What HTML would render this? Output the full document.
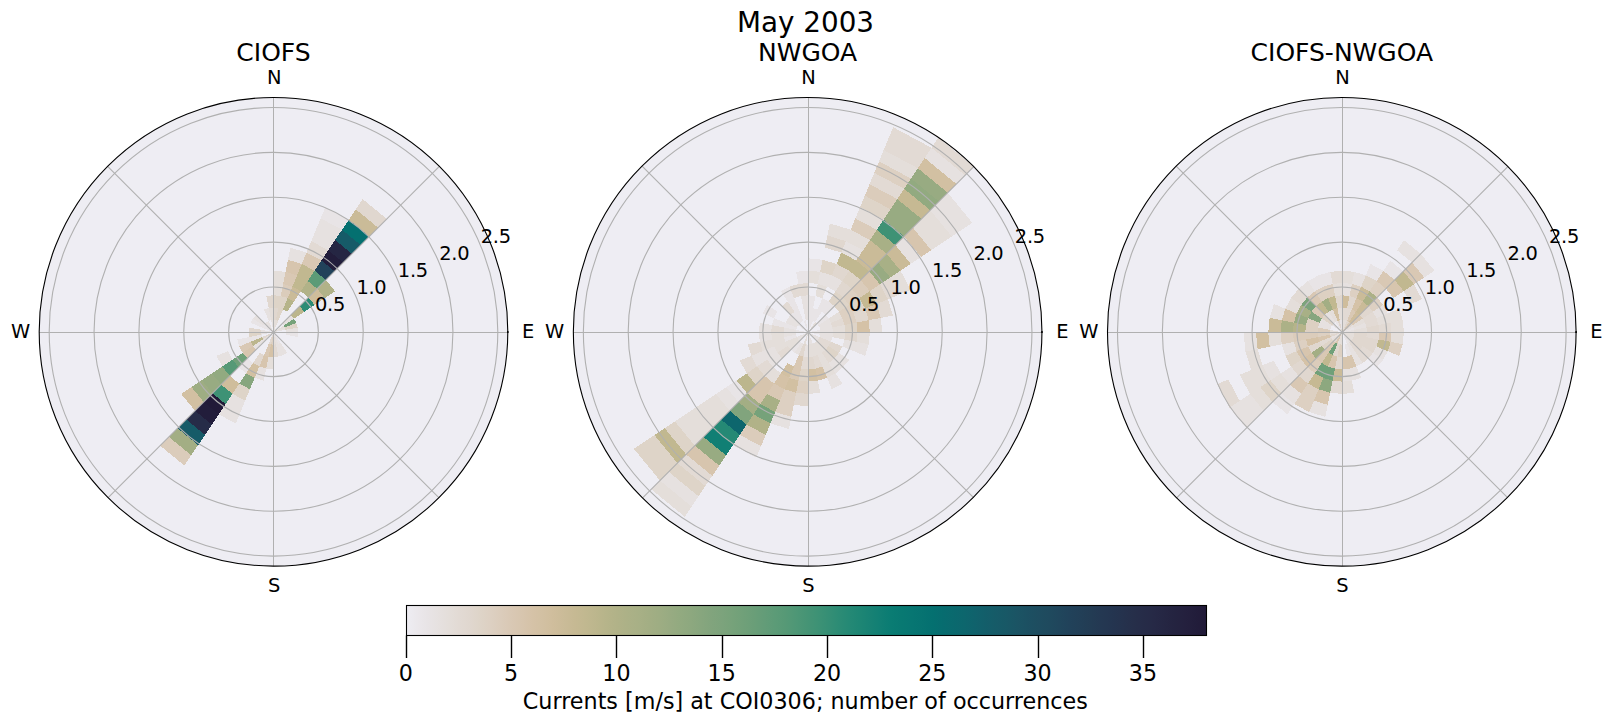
<!DOCTYPE html><html><head><meta charset="utf-8"><title>May 2003</title><style>html,body{margin:0;padding:0;background:#fff}svg{display:block}text{font-family:"DejaVu Sans","Liberation Sans",sans-serif;fill:#000}</style></head><body>
<svg width="1611" height="724" viewBox="0 0 1611 724">
<rect width="1611" height="724" fill="#fff"/>
<defs><clipPath id="c0"><circle cx="273.50" cy="331.80" r="234.30"/></clipPath></defs>
<circle cx="273.50" cy="331.80" r="234.30" fill="#eeedf3"/>
<g shape-rendering="crispEdges" clip-path="url(#c0)">
<polygon points="273.50,332.30 273.50,319.97 275.91,320.21 273.50,332.30" fill="#e4deda"/>
<polygon points="273.50,319.97 273.50,307.64 278.31,308.11 275.91,320.21" fill="#e0d7cf"/>
<polygon points="273.50,307.64 273.50,295.31 280.72,296.02 278.31,308.11" fill="#ded4c8"/>
<polygon points="273.50,295.31 273.50,282.97 283.12,283.92 280.72,296.02" fill="#e4deda"/>
<polygon points="273.50,282.97 273.50,270.64 285.53,271.83 283.12,283.92" fill="#e4deda"/>
<polygon points="273.50,332.30 275.91,320.21 278.22,320.91 273.50,332.30" fill="#e4deda"/>
<polygon points="275.91,320.21 278.31,308.11 282.94,309.51 278.22,320.91" fill="#ded4c8"/>
<polygon points="278.31,308.11 280.72,296.02 287.66,298.12 282.94,309.51" fill="#ded4c8"/>
<polygon points="280.72,296.02 283.12,283.92 292.38,286.73 287.66,298.12" fill="#dbccbb"/>
<polygon points="283.12,283.92 285.53,271.83 297.10,275.34 292.38,286.73" fill="#d9c8b4"/>
<polygon points="285.53,271.83 287.93,259.73 301.81,263.94 297.10,275.34" fill="#d7c5ae"/>
<polygon points="287.93,259.73 290.34,247.64 306.53,252.55 301.81,263.94" fill="#e6e1e0"/>
<polygon points="282.94,309.51 287.66,298.12 294.05,301.54 287.20,311.79" fill="#b6b48a"/>
<polygon points="287.66,298.12 292.38,286.73 300.90,291.29 294.05,301.54" fill="#cabb98"/>
<polygon points="292.38,286.73 297.10,275.34 307.76,281.03 300.90,291.29" fill="#c1b890"/>
<polygon points="297.10,275.34 301.81,263.94 314.61,270.78 307.76,281.03" fill="#c1b890"/>
<polygon points="301.81,263.94 306.53,252.55 321.46,260.53 314.61,270.78" fill="#d9c8b4"/>
<polygon points="306.53,252.55 311.25,241.16 328.31,250.27 321.46,260.53" fill="#e2dad4"/>
<polygon points="311.25,241.16 315.97,229.76 335.16,240.02 328.31,250.27" fill="#e6e1e0"/>
<polygon points="315.97,229.76 320.69,218.37 342.01,229.77 335.16,240.02" fill="#e6e1e0"/>
<polygon points="320.69,218.37 325.41,206.98 348.86,219.51 342.01,229.77" fill="#e8e4e6"/>
<polygon points="300.90,291.29 307.76,281.03 317.10,288.70 308.38,297.42" fill="#b1b288"/>
<polygon points="307.76,281.03 314.61,270.78 325.82,279.98 317.10,288.70" fill="#5c9b77"/>
<polygon points="314.61,270.78 321.46,260.53 334.54,271.26 325.82,279.98" fill="#21425a"/>
<polygon points="321.46,260.53 328.31,250.27 343.26,262.54 334.54,271.26" fill="#221d3b"/>
<polygon points="328.31,250.27 335.16,240.02 351.98,253.82 343.26,262.54" fill="#252643"/>
<polygon points="335.16,240.02 342.01,229.77 360.70,245.10 351.98,253.82" fill="#165b68"/>
<polygon points="342.01,229.77 348.86,219.51 369.42,236.38 360.70,245.10" fill="#047070"/>
<polygon points="348.86,219.51 355.71,209.26 378.14,227.66 369.42,236.38" fill="#cabb98"/>
<polygon points="355.71,209.26 362.56,199.01 386.86,218.94 378.14,227.66" fill="#e0d7cf"/>
<polygon points="282.22,323.58 290.94,314.86 294.01,318.60 283.75,325.45" fill="#e6e1e0"/>
<polygon points="290.94,314.86 299.66,306.14 304.26,311.75 294.01,318.60" fill="#bcb68d"/>
<polygon points="299.66,306.14 308.38,297.42 314.51,304.90 304.26,311.75" fill="#2d8c75"/>
<polygon points="308.38,297.42 317.10,288.70 324.77,298.04 314.51,304.90" fill="#cfbd9c"/>
<polygon points="317.10,288.70 325.82,279.98 335.02,291.19 324.77,298.04" fill="#b1b288"/>
<polygon points="273.50,332.30 283.75,325.45 284.89,327.58 273.50,332.30" fill="#e4deda"/>
<polygon points="283.75,325.45 294.01,318.60 296.29,322.86 284.89,327.58" fill="#76a27a"/>
<polygon points="273.50,332.30 284.89,327.58 285.59,329.89 273.50,332.30" fill="#e6e1e0"/>
<polygon points="284.89,327.58 296.29,322.86 297.69,327.49 285.59,329.89" fill="#ded4c8"/>
<polygon points="285.59,329.89 297.69,327.49 298.16,332.30 285.83,332.30" fill="#e6e1e0"/>
<polygon points="285.83,332.30 298.16,332.30 297.69,337.11 285.59,334.71" fill="#e8e4e6"/>
<polygon points="273.50,332.30 280.35,342.55 278.22,343.69 273.50,332.30" fill="#e8e4e6"/>
<polygon points="280.35,342.55 287.20,352.81 282.94,355.09 278.22,343.69" fill="#e6e1e0"/>
<polygon points="273.50,332.30 278.22,343.69 275.91,344.39 273.50,332.30" fill="#e6e1e0"/>
<polygon points="278.22,343.69 282.94,355.09 278.31,356.49 275.91,344.39" fill="#e6e1e0"/>
<polygon points="273.50,332.30 275.91,344.39 273.50,344.63 273.50,332.30" fill="#e4deda"/>
<polygon points="275.91,344.39 278.31,356.49 273.50,356.96 273.50,344.63" fill="#e2dad4"/>
<polygon points="273.50,332.30 273.50,344.63 271.09,344.39 273.50,332.30" fill="#ddd0c2"/>
<polygon points="273.50,344.63 273.50,356.96 268.69,356.49 271.09,344.39" fill="#d5c2a7"/>
<polygon points="273.50,356.96 273.50,369.29 266.28,368.58 268.69,356.49" fill="#e4deda"/>
<polygon points="273.50,332.30 271.09,344.39 268.78,343.69 273.50,332.30" fill="#e0d7cf"/>
<polygon points="271.09,344.39 268.69,356.49 264.06,355.09 268.78,343.69" fill="#d9c8b4"/>
<polygon points="268.69,356.49 266.28,368.58 259.34,366.48 264.06,355.09" fill="#d7c5ae"/>
<polygon points="266.28,368.58 263.88,380.68 254.62,377.87 259.34,366.48" fill="#e6e1e0"/>
<polygon points="264.06,355.09 259.34,366.48 252.95,363.06 259.80,352.81" fill="#e0d7cf"/>
<polygon points="259.34,366.48 254.62,377.87 246.10,373.31 252.95,363.06" fill="#d2c0a2"/>
<polygon points="254.62,377.87 249.90,389.26 239.24,383.57 246.10,373.31" fill="#87a67e"/>
<polygon points="249.90,389.26 245.19,400.66 232.39,393.82 239.24,383.57" fill="#ded4c8"/>
<polygon points="245.19,400.66 240.47,412.05 225.54,404.07 232.39,393.82" fill="#e6e1e0"/>
<polygon points="240.47,412.05 235.75,423.44 218.69,414.33 225.54,404.07" fill="#e6e1e0"/>
<polygon points="252.95,363.06 246.10,373.31 238.62,367.18 247.34,358.46" fill="#e8e4e6"/>
<polygon points="239.24,383.57 232.39,393.82 221.18,384.62 229.90,375.90" fill="#cfbd9c"/>
<polygon points="232.39,393.82 225.54,404.07 212.46,393.34 221.18,384.62" fill="#3e9275"/>
<polygon points="225.54,404.07 218.69,414.33 203.74,402.06 212.46,393.34" fill="#211a38"/>
<polygon points="218.69,414.33 211.84,424.58 195.02,410.78 203.74,402.06" fill="#221d3b"/>
<polygon points="211.84,424.58 204.99,434.83 186.30,419.50 195.02,410.78" fill="#262c48"/>
<polygon points="204.99,434.83 198.14,445.09 177.58,428.22 186.30,419.50" fill="#165b68"/>
<polygon points="198.14,445.09 191.29,455.34 168.86,436.94 177.58,428.22" fill="#a3ae84"/>
<polygon points="191.29,455.34 184.44,465.59 160.14,445.66 168.86,436.94" fill="#dbccbb"/>
<polygon points="273.50,332.30 264.78,341.02 263.25,339.15 273.50,332.30" fill="#e6e1e0"/>
<polygon points="264.78,341.02 256.06,349.74 252.99,346.00 263.25,339.15" fill="#e6e1e0"/>
<polygon points="256.06,349.74 247.34,358.46 242.74,352.85 252.99,346.00" fill="#d7c5ae"/>
<polygon points="247.34,358.46 238.62,367.18 232.49,359.70 242.74,352.85" fill="#70a079"/>
<polygon points="238.62,367.18 229.90,375.90 222.23,366.56 232.49,359.70" fill="#569976"/>
<polygon points="229.90,375.90 221.18,384.62 211.98,373.41 222.23,366.56" fill="#92aa80"/>
<polygon points="221.18,384.62 212.46,393.34 201.73,380.26 211.98,373.41" fill="#98ab82"/>
<polygon points="212.46,393.34 203.74,402.06 191.47,387.11 201.73,380.26" fill="#9ead83"/>
<polygon points="203.74,402.06 195.02,410.78 181.22,393.96 191.47,387.11" fill="#d2c0a2"/>
<polygon points="273.50,332.30 263.25,339.15 262.11,337.02 273.50,332.30" fill="#e0d7cf"/>
<polygon points="263.25,339.15 252.99,346.00 250.71,341.74 262.11,337.02" fill="#bcb68d"/>
<polygon points="252.99,346.00 242.74,352.85 239.32,346.46 250.71,341.74" fill="#d9c8b4"/>
<polygon points="232.49,359.70 222.23,366.56 216.54,355.90 227.93,351.18" fill="#e6e1e0"/>
<polygon points="262.11,337.02 250.71,341.74 249.31,337.11 261.41,334.71" fill="#e8e4e6"/>
<polygon points="250.71,341.74 239.32,346.46 237.22,339.52 249.31,337.11" fill="#e8e4e6"/>
<polygon points="273.50,332.30 261.41,334.71 261.17,332.30 273.50,332.30" fill="#e6e1e0"/>
<polygon points="261.41,334.71 249.31,337.11 248.84,332.30 261.17,332.30" fill="#ded4c8"/>
<polygon points="273.50,332.30 261.17,332.30 261.41,329.89 273.50,332.30" fill="#e6e1e0"/>
<polygon points="261.17,332.30 248.84,332.30 249.31,327.49 261.41,329.89" fill="#e0d7cf"/>
<polygon points="273.50,332.30 262.11,327.58 263.25,325.45 273.50,332.30" fill="#e8e4e6"/>
<polygon points="262.11,327.58 250.71,322.86 252.99,318.60 263.25,325.45" fill="#e8e4e6"/>
<polygon points="273.50,332.30 263.25,325.45 264.78,323.58 273.50,332.30" fill="#e8e4e6"/>
<polygon points="263.25,325.45 252.99,318.60 256.06,314.86 264.78,323.58" fill="#e6e1e0"/>
<polygon points="273.50,332.30 264.78,323.58 266.65,322.05 273.50,332.30" fill="#e6e1e0"/>
<polygon points="273.50,332.30 266.65,322.05 268.78,320.91 273.50,332.30" fill="#e6e1e0"/>
<polygon points="268.78,320.91 264.06,309.51 268.69,308.11 271.09,320.21" fill="#e6e1e0"/>
<polygon points="273.50,332.30 271.09,320.21 273.50,319.97 273.50,332.30" fill="#e6e1e0"/>
<polygon points="271.09,320.21 268.69,308.11 273.50,307.64 273.50,319.97" fill="#e4deda"/>
<polygon points="268.69,308.11 266.28,296.02 273.50,295.31 273.50,307.64" fill="#e0d7cf"/>
</g>
<g stroke="#b0b0b0" stroke-width="1.1" fill="none">
<circle cx="273.50" cy="331.80" r="44.86"/>
<circle cx="273.50" cy="331.80" r="89.72"/>
<circle cx="273.50" cy="331.80" r="134.58"/>
<circle cx="273.50" cy="331.80" r="179.44"/>
<circle cx="273.50" cy="331.80" r="224.30"/>
<line x1="273.50" y1="332.30" x2="440.59" y2="165.21" clip-path="url(#c0)"/>
<line x1="273.50" y1="332.30" x2="440.59" y2="499.39" clip-path="url(#c0)"/>
<line x1="273.50" y1="332.30" x2="106.41" y2="499.39" clip-path="url(#c0)"/>
<line x1="273.50" y1="332.30" x2="106.41" y2="165.21" clip-path="url(#c0)"/>
<line x1="273.50" y1="97.50" x2="273.50" y2="566.10" stroke-width="1"/>
<line x1="39.20" y1="332.50" x2="507.80" y2="332.50" stroke-width="1"/>
</g>
<circle cx="273.50" cy="331.80" r="234.30" fill="none" stroke="#000" stroke-width="1.1"/>
<rect x="507.00" y="331.1" width="1.6" height="1.9" fill="#000"/>
<g font-size="19.44">
<text x="274.30" y="83.50" text-anchor="middle">N</text>
<text x="274.20" y="591.80" text-anchor="middle">S</text>
<text x="522.00" y="338.30" text-anchor="start">E</text>
<text x="30.20" y="338.30" text-anchor="end">W</text>
<text x="329.95" y="311.43" text-anchor="middle" letter-spacing="-0.3">0.5</text>
<text x="371.39" y="294.27" text-anchor="middle" letter-spacing="-0.3">1.0</text>
<text x="412.84" y="277.10" text-anchor="middle" letter-spacing="-0.3">1.5</text>
<text x="454.28" y="259.93" text-anchor="middle" letter-spacing="-0.3">2.0</text>
<text x="495.73" y="242.76" text-anchor="middle" letter-spacing="-0.3">2.5</text>
</g>
<text x="273.50" y="60.80" text-anchor="middle" font-size="25">CIOFS</text>
<defs><clipPath id="c1"><circle cx="807.65" cy="331.80" r="234.30"/></clipPath></defs>
<circle cx="807.65" cy="331.80" r="234.30" fill="#eeedf3"/>
<g shape-rendering="crispEdges" clip-path="url(#c1)">
<polygon points="808.20,332.30 808.20,319.97 810.61,320.21 808.20,332.30" fill="#e8e4e6"/>
<polygon points="808.20,319.97 808.20,307.64 813.01,308.11 810.61,320.21" fill="#e8e4e6"/>
<polygon points="808.20,307.64 808.20,295.31 815.42,296.02 813.01,308.11" fill="#e8e4e6"/>
<polygon points="808.20,282.97 808.20,270.64 820.23,271.83 817.82,283.92" fill="#e4deda"/>
<polygon points="808.20,270.64 808.20,258.31 822.63,259.73 820.23,271.83" fill="#e8e4e6"/>
<polygon points="808.20,332.30 810.61,320.21 812.92,320.91 808.20,332.30" fill="#e8e4e6"/>
<polygon points="810.61,320.21 813.01,308.11 817.64,309.51 812.92,320.91" fill="#e8e4e6"/>
<polygon points="815.42,296.02 817.82,283.92 827.08,286.73 822.36,298.12" fill="#e4deda"/>
<polygon points="817.82,283.92 820.23,271.83 831.80,275.34 827.08,286.73" fill="#e6e1e0"/>
<polygon points="820.23,271.83 822.63,259.73 836.51,263.94 831.80,275.34" fill="#ded4c8"/>
<polygon points="825.04,247.64 827.45,235.54 845.95,241.16 841.23,252.55" fill="#e0d7cf"/>
<polygon points="827.45,235.54 829.85,223.45 850.67,229.76 845.95,241.16" fill="#e4deda"/>
<polygon points="812.92,320.91 817.64,309.51 821.90,311.79 815.05,322.05" fill="#e8e4e6"/>
<polygon points="817.64,309.51 822.36,298.12 828.75,301.54 821.90,311.79" fill="#e8e4e6"/>
<polygon points="827.08,286.73 831.80,275.34 842.46,281.03 835.60,291.29" fill="#e6e1e0"/>
<polygon points="831.80,275.34 836.51,263.94 849.31,270.78 842.46,281.03" fill="#e0d7cf"/>
<polygon points="836.51,263.94 841.23,252.55 856.16,260.53 849.31,270.78" fill="#c1b890"/>
<polygon points="841.23,252.55 845.95,241.16 863.01,250.27 856.16,260.53" fill="#e6e1e0"/>
<polygon points="845.95,241.16 850.67,229.76 869.86,240.02 863.01,250.27" fill="#e4deda"/>
<polygon points="850.67,229.76 855.39,218.37 876.71,229.77 869.86,240.02" fill="#dbccbb"/>
<polygon points="855.39,218.37 860.11,206.98 883.56,219.51 876.71,229.77" fill="#e4deda"/>
<polygon points="860.11,206.98 864.83,195.59 890.41,209.26 883.56,219.51" fill="#ded4c8"/>
<polygon points="864.83,195.59 869.55,184.19 897.26,199.01 890.41,209.26" fill="#dbccbb"/>
<polygon points="869.55,184.19 874.27,172.80 904.11,188.75 897.26,199.01" fill="#e2dad4"/>
<polygon points="874.27,172.80 878.99,161.41 910.97,178.50 904.11,188.75" fill="#ddd0c2"/>
<polygon points="878.99,161.41 883.71,150.01 917.82,168.25 910.97,178.50" fill="#e4deda"/>
<polygon points="883.71,150.01 888.42,138.62 924.67,157.99 917.82,168.25" fill="#e2dad4"/>
<polygon points="888.42,138.62 893.14,127.23 931.52,147.74 924.67,157.99" fill="#e2dad4"/>
<polygon points="808.20,332.30 815.05,322.05 816.92,323.58 808.20,332.30" fill="#e4deda"/>
<polygon points="821.90,311.79 828.75,301.54 834.36,306.14 825.64,314.86" fill="#e8e4e6"/>
<polygon points="828.75,301.54 835.60,291.29 843.08,297.42 834.36,306.14" fill="#ded4c8"/>
<polygon points="835.60,291.29 842.46,281.03 851.80,288.70 843.08,297.42" fill="#e0d7cf"/>
<polygon points="842.46,281.03 849.31,270.78 860.52,279.98 851.80,288.70" fill="#ded4c8"/>
<polygon points="849.31,270.78 856.16,260.53 869.24,271.26 860.52,279.98" fill="#c1b890"/>
<polygon points="856.16,260.53 863.01,250.27 877.96,262.54 869.24,271.26" fill="#cabb98"/>
<polygon points="863.01,250.27 869.86,240.02 886.68,253.82 877.96,262.54" fill="#cabb98"/>
<polygon points="869.86,240.02 876.71,229.77 895.40,245.10 886.68,253.82" fill="#a8b086"/>
<polygon points="876.71,229.77 883.56,219.51 904.12,236.38 895.40,245.10" fill="#3e9275"/>
<polygon points="883.56,219.51 890.41,209.26 912.84,227.66 904.12,236.38" fill="#98ab82"/>
<polygon points="890.41,209.26 897.26,199.01 921.56,218.94 912.84,227.66" fill="#98ab82"/>
<polygon points="897.26,199.01 904.11,188.75 930.28,210.22 921.56,218.94" fill="#c6b993"/>
<polygon points="904.11,188.75 910.97,178.50 939.00,201.50 930.28,210.22" fill="#92aa80"/>
<polygon points="910.97,178.50 917.82,168.25 947.72,192.78 939.00,201.50" fill="#98ab82"/>
<polygon points="917.82,168.25 924.67,157.99 956.44,184.06 947.72,192.78" fill="#d2c0a2"/>
<polygon points="924.67,157.99 931.52,147.74 965.16,175.34 956.44,184.06" fill="#e6e1e0"/>
<polygon points="931.52,147.74 938.37,137.49 973.88,166.62 965.16,175.34" fill="#e2dad4"/>
<polygon points="816.92,323.58 825.64,314.86 828.71,318.60 818.45,325.45" fill="#e8e4e6"/>
<polygon points="834.36,306.14 843.08,297.42 849.21,304.90 838.96,311.75" fill="#ded4c8"/>
<polygon points="843.08,297.42 851.80,288.70 859.47,298.04 849.21,304.90" fill="#ddd0c2"/>
<polygon points="851.80,288.70 860.52,279.98 869.72,291.19 859.47,298.04" fill="#dbccbb"/>
<polygon points="860.52,279.98 869.24,271.26 879.97,284.34 869.72,291.19" fill="#d7c5ae"/>
<polygon points="869.24,271.26 877.96,262.54 890.23,277.49 879.97,284.34" fill="#98ab82"/>
<polygon points="877.96,262.54 886.68,253.82 900.48,270.64 890.23,277.49" fill="#a8b086"/>
<polygon points="886.68,253.82 895.40,245.10 910.73,263.79 900.48,270.64" fill="#cabb98"/>
<polygon points="895.40,245.10 904.12,236.38 920.99,256.94 910.73,263.79" fill="#e6e1e0"/>
<polygon points="904.12,236.38 912.84,227.66 931.24,250.09 920.99,256.94" fill="#d7c5ae"/>
<polygon points="912.84,227.66 921.56,218.94 941.49,243.24 931.24,250.09" fill="#e4deda"/>
<polygon points="921.56,218.94 930.28,210.22 951.75,236.39 941.49,243.24" fill="#e4deda"/>
<polygon points="930.28,210.22 939.00,201.50 962.00,229.53 951.75,236.39" fill="#e6e1e0"/>
<polygon points="939.00,201.50 947.72,192.78 972.25,222.68 962.00,229.53" fill="#e6e1e0"/>
<polygon points="818.45,325.45 828.71,318.60 830.99,322.86 819.59,327.58" fill="#e6e1e0"/>
<polygon points="828.71,318.60 838.96,311.75 842.38,318.14 830.99,322.86" fill="#e4deda"/>
<polygon points="838.96,311.75 849.21,304.90 853.77,313.42 842.38,318.14" fill="#ddd0c2"/>
<polygon points="849.21,304.90 859.47,298.04 865.16,308.70 853.77,313.42" fill="#ded4c8"/>
<polygon points="859.47,298.04 869.72,291.19 876.56,303.99 865.16,308.70" fill="#c6b993"/>
<polygon points="869.72,291.19 879.97,284.34 887.95,299.27 876.56,303.99" fill="#ded4c8"/>
<polygon points="879.97,284.34 890.23,277.49 899.34,294.55 887.95,299.27" fill="#e2dad4"/>
<polygon points="890.23,277.49 900.48,270.64 910.74,289.83 899.34,294.55" fill="#e4deda"/>
<polygon points="819.59,327.58 830.99,322.86 832.39,327.49 820.29,329.89" fill="#e6e1e0"/>
<polygon points="830.99,322.86 842.38,318.14 844.48,325.08 832.39,327.49" fill="#e2dad4"/>
<polygon points="842.38,318.14 853.77,313.42 856.58,322.68 844.48,325.08" fill="#ddd0c2"/>
<polygon points="853.77,313.42 865.16,308.70 868.67,320.27 856.58,322.68" fill="#e0d7cf"/>
<polygon points="865.16,308.70 876.56,303.99 880.77,317.87 868.67,320.27" fill="#d9c8b4"/>
<polygon points="876.56,303.99 887.95,299.27 892.86,315.46 880.77,317.87" fill="#e2dad4"/>
<polygon points="808.20,332.30 820.29,329.89 820.53,332.30 808.20,332.30" fill="#e8e4e6"/>
<polygon points="820.29,329.89 832.39,327.49 832.86,332.30 820.53,332.30" fill="#e6e1e0"/>
<polygon points="832.39,327.49 844.48,325.08 845.19,332.30 832.86,332.30" fill="#e4deda"/>
<polygon points="844.48,325.08 856.58,322.68 857.53,332.30 845.19,332.30" fill="#ded4c8"/>
<polygon points="856.58,322.68 868.67,320.27 869.86,332.30 857.53,332.30" fill="#d5c2a7"/>
<polygon points="868.67,320.27 880.77,317.87 882.19,332.30 869.86,332.30" fill="#e4deda"/>
<polygon points="808.20,332.30 820.53,332.30 820.29,334.71 808.20,332.30" fill="#e8e4e6"/>
<polygon points="820.53,332.30 832.86,332.30 832.39,337.11 820.29,334.71" fill="#e6e1e0"/>
<polygon points="832.86,332.30 845.19,332.30 844.48,339.52 832.39,337.11" fill="#e4deda"/>
<polygon points="845.19,332.30 857.53,332.30 856.58,341.92 844.48,339.52" fill="#e0d7cf"/>
<polygon points="857.53,332.30 869.86,332.30 868.67,344.33 856.58,341.92" fill="#e4deda"/>
<polygon points="820.29,334.71 832.39,337.11 830.99,341.74 819.59,337.02" fill="#e6e1e0"/>
<polygon points="844.48,339.52 856.58,341.92 853.77,351.18 842.38,346.46" fill="#e6e1e0"/>
<polygon points="856.58,341.92 868.67,344.33 865.16,355.90 853.77,351.18" fill="#e6e1e0"/>
<polygon points="808.20,332.30 819.59,337.02 818.45,339.15 808.20,332.30" fill="#e6e1e0"/>
<polygon points="819.59,337.02 830.99,341.74 828.71,346.00 818.45,339.15" fill="#e2dad4"/>
<polygon points="830.99,341.74 842.38,346.46 838.96,352.85 828.71,346.00" fill="#e0d7cf"/>
<polygon points="808.20,332.30 818.45,339.15 816.92,341.02 808.20,332.30" fill="#e6e1e0"/>
<polygon points="818.45,339.15 828.71,346.00 825.64,349.74 816.92,341.02" fill="#e2dad4"/>
<polygon points="828.71,346.00 838.96,352.85 834.36,358.46 825.64,349.74" fill="#ded4c8"/>
<polygon points="838.96,352.85 849.21,359.70 843.08,367.18 834.36,358.46" fill="#e6e1e0"/>
<polygon points="816.92,341.02 825.64,349.74 821.90,352.81 815.05,342.55" fill="#e4deda"/>
<polygon points="825.64,349.74 834.36,358.46 828.75,363.06 821.90,352.81" fill="#e2dad4"/>
<polygon points="834.36,358.46 843.08,367.18 835.60,373.31 828.75,363.06" fill="#e6e1e0"/>
<polygon points="815.05,342.55 821.90,352.81 817.64,355.09 812.92,343.69" fill="#e4deda"/>
<polygon points="821.90,352.81 828.75,363.06 822.36,366.48 817.64,355.09" fill="#e4deda"/>
<polygon points="828.75,363.06 835.60,373.31 827.08,377.87 822.36,366.48" fill="#e4deda"/>
<polygon points="835.60,373.31 842.46,383.57 831.80,389.26 827.08,377.87" fill="#e6e1e0"/>
<polygon points="808.20,332.30 812.92,343.69 810.61,344.39 808.20,332.30" fill="#e6e1e0"/>
<polygon points="812.92,343.69 817.64,355.09 813.01,356.49 810.61,344.39" fill="#e4deda"/>
<polygon points="817.64,355.09 822.36,366.48 815.42,368.58 813.01,356.49" fill="#e2dad4"/>
<polygon points="822.36,366.48 827.08,377.87 817.82,380.68 815.42,368.58" fill="#d5c2a7"/>
<polygon points="808.20,332.30 810.61,344.39 808.20,344.63 808.20,332.30" fill="#e6e1e0"/>
<polygon points="810.61,344.39 813.01,356.49 808.20,356.96 808.20,344.63" fill="#e4deda"/>
<polygon points="813.01,356.49 815.42,368.58 808.20,369.29 808.20,356.96" fill="#e0d7cf"/>
<polygon points="815.42,368.58 817.82,380.68 808.20,381.63 808.20,369.29" fill="#d2c0a2"/>
<polygon points="817.82,380.68 820.23,392.77 808.20,393.96 808.20,381.63" fill="#e4deda"/>
<polygon points="808.20,344.63 808.20,356.96 803.39,356.49 805.79,344.39" fill="#e6e1e0"/>
<polygon points="808.20,356.96 808.20,369.29 800.98,368.58 803.39,356.49" fill="#e2dad4"/>
<polygon points="808.20,369.29 808.20,381.63 798.58,380.68 800.98,368.58" fill="#ded4c8"/>
<polygon points="808.20,381.63 808.20,393.96 796.17,392.77 798.58,380.68" fill="#ddd0c2"/>
<polygon points="808.20,393.96 808.20,406.29 793.77,404.87 796.17,392.77" fill="#e0d7cf"/>
<polygon points="808.20,332.30 805.79,344.39 803.48,343.69 808.20,332.30" fill="#e4deda"/>
<polygon points="805.79,344.39 803.39,356.49 798.76,355.09 803.48,343.69" fill="#e0d7cf"/>
<polygon points="803.39,356.49 800.98,368.58 794.04,366.48 798.76,355.09" fill="#d9c8b4"/>
<polygon points="800.98,368.58 798.58,380.68 789.32,377.87 794.04,366.48" fill="#d9c8b4"/>
<polygon points="798.58,380.68 796.17,392.77 784.60,389.26 789.32,377.87" fill="#d2c0a2"/>
<polygon points="796.17,392.77 793.77,404.87 779.89,400.66 784.60,389.26" fill="#ddd0c2"/>
<polygon points="793.77,404.87 791.36,416.96 775.17,412.05 779.89,400.66" fill="#ddd0c2"/>
<polygon points="791.36,416.96 788.95,429.06 770.45,423.44 775.17,412.05" fill="#e6e1e0"/>
<polygon points="803.48,343.69 798.76,355.09 794.50,352.81 801.35,342.55" fill="#e6e1e0"/>
<polygon points="794.04,366.48 789.32,377.87 780.80,373.31 787.65,363.06" fill="#d2c0a2"/>
<polygon points="789.32,377.87 784.60,389.26 773.94,383.57 780.80,373.31" fill="#d5c2a7"/>
<polygon points="784.60,389.26 779.89,400.66 767.09,393.82 773.94,383.57" fill="#d9c8b4"/>
<polygon points="779.89,400.66 775.17,412.05 760.24,404.07 767.09,393.82" fill="#a8b086"/>
<polygon points="775.17,412.05 770.45,423.44 753.39,414.33 760.24,404.07" fill="#76a27a"/>
<polygon points="770.45,423.44 765.73,434.84 746.54,424.58 753.39,414.33" fill="#b1b288"/>
<polygon points="765.73,434.84 761.01,446.23 739.69,434.83 746.54,424.58" fill="#dbccbb"/>
<polygon points="761.01,446.23 756.29,457.62 732.84,445.09 739.69,434.83" fill="#e6e1e0"/>
<polygon points="801.35,342.55 794.50,352.81 790.76,349.74 799.48,341.02" fill="#e8e4e6"/>
<polygon points="780.80,373.31 773.94,383.57 764.60,375.90 773.32,367.18" fill="#e4deda"/>
<polygon points="773.94,383.57 767.09,393.82 755.88,384.62 764.60,375.90" fill="#d7c5ae"/>
<polygon points="767.09,393.82 760.24,404.07 747.16,393.34 755.88,384.62" fill="#d7c5ae"/>
<polygon points="760.24,404.07 753.39,414.33 738.44,402.06 747.16,393.34" fill="#a3ae84"/>
<polygon points="753.39,414.33 746.54,424.58 729.72,410.78 738.44,402.06" fill="#81a47d"/>
<polygon points="746.54,424.58 739.69,434.83 721.00,419.50 729.72,410.78" fill="#0d666d"/>
<polygon points="739.69,434.83 732.84,445.09 712.28,428.22 721.00,419.50" fill="#258975"/>
<polygon points="732.84,445.09 725.99,455.34 703.56,436.94 712.28,428.22" fill="#117f74"/>
<polygon points="725.99,455.34 719.14,465.59 694.84,445.66 703.56,436.94" fill="#98ab82"/>
<polygon points="719.14,465.59 712.29,475.85 686.12,454.38 694.84,445.66" fill="#d7c5ae"/>
<polygon points="712.29,475.85 705.43,486.10 677.40,463.10 686.12,454.38" fill="#e2dad4"/>
<polygon points="705.43,486.10 698.58,496.35 668.68,471.82 677.40,463.10" fill="#ded4c8"/>
<polygon points="698.58,496.35 691.73,506.61 659.96,480.54 668.68,471.82" fill="#e6e1e0"/>
<polygon points="691.73,506.61 684.88,516.86 651.24,489.26 659.96,480.54" fill="#e4deda"/>
<polygon points="808.20,332.30 799.48,341.02 797.95,339.15 808.20,332.30" fill="#e6e1e0"/>
<polygon points="799.48,341.02 790.76,349.74 787.69,346.00 797.95,339.15" fill="#e4deda"/>
<polygon points="790.76,349.74 782.04,358.46 777.44,352.85 787.69,346.00" fill="#e2dad4"/>
<polygon points="782.04,358.46 773.32,367.18 767.19,359.70 777.44,352.85" fill="#e6e1e0"/>
<polygon points="773.32,367.18 764.60,375.90 756.93,366.56 767.19,359.70" fill="#e2dad4"/>
<polygon points="764.60,375.90 755.88,384.62 746.68,373.41 756.93,366.56" fill="#ded4c8"/>
<polygon points="755.88,384.62 747.16,393.34 736.43,380.26 746.68,373.41" fill="#bcb68d"/>
<polygon points="747.16,393.34 738.44,402.06 726.17,387.11 736.43,380.26" fill="#e8e4e6"/>
<polygon points="738.44,402.06 729.72,410.78 715.92,393.96 726.17,387.11" fill="#e6e1e0"/>
<polygon points="729.72,410.78 721.00,419.50 705.67,400.81 715.92,393.96" fill="#e4deda"/>
<polygon points="721.00,419.50 712.28,428.22 695.41,407.66 705.67,400.81" fill="#e4deda"/>
<polygon points="712.28,428.22 703.56,436.94 685.16,414.51 695.41,407.66" fill="#e4deda"/>
<polygon points="703.56,436.94 694.84,445.66 674.91,421.36 685.16,414.51" fill="#e4deda"/>
<polygon points="694.84,445.66 686.12,454.38 664.65,428.21 674.91,421.36" fill="#ded4c8"/>
<polygon points="686.12,454.38 677.40,463.10 654.40,435.07 664.65,428.21" fill="#c1b890"/>
<polygon points="677.40,463.10 668.68,471.82 644.15,441.92 654.40,435.07" fill="#ded4c8"/>
<polygon points="668.68,471.82 659.96,480.54 633.89,448.77 644.15,441.92" fill="#ded4c8"/>
<polygon points="808.20,332.30 797.95,339.15 796.81,337.02 808.20,332.30" fill="#e6e1e0"/>
<polygon points="797.95,339.15 787.69,346.00 785.41,341.74 796.81,337.02" fill="#e4deda"/>
<polygon points="787.69,346.00 777.44,352.85 774.02,346.46 785.41,341.74" fill="#e4deda"/>
<polygon points="777.44,352.85 767.19,359.70 762.63,351.18 774.02,346.46" fill="#e6e1e0"/>
<polygon points="767.19,359.70 756.93,366.56 751.24,355.90 762.63,351.18" fill="#e6e1e0"/>
<polygon points="756.93,366.56 746.68,373.41 739.84,360.61 751.24,355.90" fill="#e2dad4"/>
<polygon points="796.81,337.02 785.41,341.74 784.01,337.11 796.11,334.71" fill="#e8e4e6"/>
<polygon points="785.41,341.74 774.02,346.46 771.92,339.52 784.01,337.11" fill="#e4deda"/>
<polygon points="774.02,346.46 762.63,351.18 759.82,341.92 771.92,339.52" fill="#e4deda"/>
<polygon points="762.63,351.18 751.24,355.90 747.73,344.33 759.82,341.92" fill="#e2dad4"/>
<polygon points="796.11,334.71 784.01,337.11 783.54,332.30 795.87,332.30" fill="#e6e1e0"/>
<polygon points="784.01,337.11 771.92,339.52 771.21,332.30 783.54,332.30" fill="#e4deda"/>
<polygon points="771.92,339.52 759.82,341.92 758.87,332.30 771.21,332.30" fill="#e6e1e0"/>
<polygon points="808.20,332.30 795.87,332.30 796.11,329.89 808.20,332.30" fill="#e8e4e6"/>
<polygon points="795.87,332.30 783.54,332.30 784.01,327.49 796.11,329.89" fill="#e6e1e0"/>
<polygon points="783.54,332.30 771.21,332.30 771.92,325.08 784.01,327.49" fill="#e2dad4"/>
<polygon points="771.21,332.30 758.87,332.30 759.82,322.68 771.92,325.08" fill="#e6e1e0"/>
<polygon points="796.11,329.89 784.01,327.49 785.41,322.86 796.81,327.58" fill="#e8e4e6"/>
<polygon points="784.01,327.49 771.92,325.08 774.02,318.14 785.41,322.86" fill="#e8e4e6"/>
<polygon points="796.81,327.58 785.41,322.86 787.69,318.60 797.95,325.45" fill="#e6e1e0"/>
<polygon points="774.02,318.14 762.63,313.42 767.19,304.90 777.44,311.75" fill="#e8e4e6"/>
<polygon points="808.20,332.30 797.95,325.45 799.48,323.58 808.20,332.30" fill="#e8e4e6"/>
<polygon points="797.95,325.45 787.69,318.60 790.76,314.86 799.48,323.58" fill="#e6e1e0"/>
<polygon points="799.48,323.58 790.76,314.86 794.50,311.79 801.35,322.05" fill="#e8e4e6"/>
<polygon points="790.76,314.86 782.04,306.14 787.65,301.54 794.50,311.79" fill="#e2dad4"/>
<polygon points="801.35,322.05 794.50,311.79 798.76,309.51 803.48,320.91" fill="#e8e4e6"/>
<polygon points="794.50,311.79 787.65,301.54 794.04,298.12 798.76,309.51" fill="#e8e4e6"/>
<polygon points="787.65,301.54 780.80,291.29 789.32,286.73 794.04,298.12" fill="#e8e4e6"/>
<polygon points="808.20,332.30 803.48,320.91 805.79,320.21 808.20,332.30" fill="#e8e4e6"/>
<polygon points="794.04,298.12 789.32,286.73 798.58,283.92 800.98,296.02" fill="#e2dad4"/>
<polygon points="805.79,320.21 803.39,308.11 808.20,307.64 808.20,319.97" fill="#e6e1e0"/>
<polygon points="803.39,308.11 800.98,296.02 808.20,295.31 808.20,307.64" fill="#e6e1e0"/>
<polygon points="800.98,296.02 798.58,283.92 808.20,282.97 808.20,295.31" fill="#e2dad4"/>
<polygon points="798.58,283.92 796.17,271.83 808.20,270.64 808.20,282.97" fill="#e8e4e6"/>
</g>
<g stroke="#b0b0b0" stroke-width="1.1" fill="none">
<circle cx="807.65" cy="331.80" r="44.86"/>
<circle cx="807.65" cy="331.80" r="89.72"/>
<circle cx="807.65" cy="331.80" r="134.58"/>
<circle cx="807.65" cy="331.80" r="179.44"/>
<circle cx="807.65" cy="331.80" r="224.30"/>
<line x1="808.20" y1="332.30" x2="975.29" y2="165.21" clip-path="url(#c1)"/>
<line x1="808.20" y1="332.30" x2="975.29" y2="499.39" clip-path="url(#c1)"/>
<line x1="808.20" y1="332.30" x2="641.11" y2="499.39" clip-path="url(#c1)"/>
<line x1="808.20" y1="332.30" x2="641.11" y2="165.21" clip-path="url(#c1)"/>
<line x1="808.50" y1="97.50" x2="808.50" y2="566.10" stroke-width="1"/>
<line x1="573.35" y1="332.50" x2="1041.95" y2="332.50" stroke-width="1"/>
</g>
<circle cx="807.65" cy="331.80" r="234.30" fill="none" stroke="#000" stroke-width="1.1"/>
<rect x="1041.15" y="331.1" width="1.6" height="1.9" fill="#000"/>
<g font-size="19.44">
<text x="808.45" y="83.50" text-anchor="middle">N</text>
<text x="808.35" y="591.80" text-anchor="middle">S</text>
<text x="1056.15" y="338.30" text-anchor="start">E</text>
<text x="564.35" y="338.30" text-anchor="end">W</text>
<text x="864.10" y="311.43" text-anchor="middle" letter-spacing="-0.3">0.5</text>
<text x="905.54" y="294.27" text-anchor="middle" letter-spacing="-0.3">1.0</text>
<text x="946.99" y="277.10" text-anchor="middle" letter-spacing="-0.3">1.5</text>
<text x="988.43" y="259.93" text-anchor="middle" letter-spacing="-0.3">2.0</text>
<text x="1029.88" y="242.76" text-anchor="middle" letter-spacing="-0.3">2.5</text>
</g>
<text x="807.65" y="60.80" text-anchor="middle" font-size="25">NWGOA</text>
<defs><clipPath id="c2"><circle cx="1341.80" cy="331.80" r="234.30"/></clipPath></defs>
<circle cx="1341.80" cy="331.80" r="234.30" fill="#eeedf3"/>
<g shape-rendering="crispEdges" clip-path="url(#c2)">
<polygon points="1342.25,332.30 1342.25,319.97 1344.66,320.21 1342.25,332.30" fill="#e4deda"/>
<polygon points="1342.25,319.97 1342.25,307.64 1347.06,308.11 1344.66,320.21" fill="#e2dad4"/>
<polygon points="1342.25,307.64 1342.25,295.31 1349.47,296.02 1347.06,308.11" fill="#cfbd9c"/>
<polygon points="1342.25,295.31 1342.25,282.97 1351.87,283.92 1349.47,296.02" fill="#e6e1e0"/>
<polygon points="1342.25,282.97 1342.25,270.64 1354.28,271.83 1351.87,283.92" fill="#e4deda"/>
<polygon points="1342.25,332.30 1344.66,320.21 1346.97,320.91 1342.25,332.30" fill="#e4deda"/>
<polygon points="1344.66,320.21 1347.06,308.11 1351.69,309.51 1346.97,320.91" fill="#e2dad4"/>
<polygon points="1347.06,308.11 1349.47,296.02 1356.41,298.12 1351.69,309.51" fill="#e0d7cf"/>
<polygon points="1349.47,296.02 1351.87,283.92 1361.13,286.73 1356.41,298.12" fill="#ddd0c2"/>
<polygon points="1351.87,283.92 1354.28,271.83 1365.85,275.34 1361.13,286.73" fill="#e6e1e0"/>
<polygon points="1342.25,332.30 1346.97,320.91 1349.10,322.05 1342.25,332.30" fill="#e0d7cf"/>
<polygon points="1346.97,320.91 1351.69,309.51 1355.95,311.79 1349.10,322.05" fill="#d9c8b4"/>
<polygon points="1351.69,309.51 1356.41,298.12 1362.80,301.54 1355.95,311.79" fill="#d5c2a7"/>
<polygon points="1356.41,298.12 1361.13,286.73 1369.65,291.29 1362.80,301.54" fill="#cabb98"/>
<polygon points="1361.13,286.73 1365.85,275.34 1376.51,281.03 1369.65,291.29" fill="#ded4c8"/>
<polygon points="1365.85,275.34 1370.56,263.94 1383.36,270.78 1376.51,281.03" fill="#e8e4e6"/>
<polygon points="1342.25,332.30 1349.10,322.05 1350.97,323.58 1342.25,332.30" fill="#d9c8b4"/>
<polygon points="1349.10,322.05 1355.95,311.79 1359.69,314.86 1350.97,323.58" fill="#cfbd9c"/>
<polygon points="1355.95,311.79 1362.80,301.54 1368.41,306.14 1359.69,314.86" fill="#cabb98"/>
<polygon points="1362.80,301.54 1369.65,291.29 1377.13,297.42 1368.41,306.14" fill="#acb187"/>
<polygon points="1369.65,291.29 1376.51,281.03 1385.85,288.70 1377.13,297.42" fill="#ddd0c2"/>
<polygon points="1376.51,281.03 1383.36,270.78 1394.57,279.98 1385.85,288.70" fill="#d9c8b4"/>
<polygon points="1383.36,270.78 1390.21,260.53 1403.29,271.26 1394.57,279.98" fill="#e8e4e6"/>
<polygon points="1397.06,250.27 1403.91,240.02 1420.73,253.82 1412.01,262.54" fill="#e6e1e0"/>
<polygon points="1342.25,332.30 1350.97,323.58 1352.50,325.45 1342.25,332.30" fill="#e0d7cf"/>
<polygon points="1350.97,323.58 1359.69,314.86 1362.76,318.60 1352.50,325.45" fill="#d9c8b4"/>
<polygon points="1359.69,314.86 1368.41,306.14 1373.01,311.75 1362.76,318.60" fill="#e0d7cf"/>
<polygon points="1368.41,306.14 1377.13,297.42 1383.26,304.90 1373.01,311.75" fill="#ddd0c2"/>
<polygon points="1385.85,288.70 1394.57,279.98 1403.77,291.19 1393.52,298.04" fill="#d7c5ae"/>
<polygon points="1394.57,279.98 1403.29,271.26 1414.02,284.34 1403.77,291.19" fill="#c1b890"/>
<polygon points="1403.29,271.26 1412.01,262.54 1424.28,277.49 1414.02,284.34" fill="#d9c8b4"/>
<polygon points="1412.01,262.54 1420.73,253.82 1434.53,270.64 1424.28,277.49" fill="#e6e1e0"/>
<polygon points="1342.25,332.30 1352.50,325.45 1353.64,327.58 1342.25,332.30" fill="#e6e1e0"/>
<polygon points="1352.50,325.45 1362.76,318.60 1365.04,322.86 1353.64,327.58" fill="#e4deda"/>
<polygon points="1362.76,318.60 1373.01,311.75 1376.43,318.14 1365.04,322.86" fill="#e2dad4"/>
<polygon points="1373.01,311.75 1383.26,304.90 1387.82,313.42 1376.43,318.14" fill="#e6e1e0"/>
<polygon points="1403.77,291.19 1414.02,284.34 1422.00,299.27 1410.61,303.99" fill="#e2dad4"/>
<polygon points="1342.25,332.30 1353.64,327.58 1354.34,329.89 1342.25,332.30" fill="#e8e4e6"/>
<polygon points="1353.64,327.58 1365.04,322.86 1366.44,327.49 1354.34,329.89" fill="#e6e1e0"/>
<polygon points="1365.04,322.86 1376.43,318.14 1378.53,325.08 1366.44,327.49" fill="#e2dad4"/>
<polygon points="1376.43,318.14 1387.82,313.42 1390.63,322.68 1378.53,325.08" fill="#e4deda"/>
<polygon points="1387.82,313.42 1399.21,308.70 1402.72,320.27 1390.63,322.68" fill="#e4deda"/>
<polygon points="1342.25,332.30 1354.34,329.89 1354.58,332.30 1342.25,332.30" fill="#e6e1e0"/>
<polygon points="1354.34,329.89 1366.44,327.49 1366.91,332.30 1354.58,332.30" fill="#e4deda"/>
<polygon points="1366.44,327.49 1378.53,325.08 1379.24,332.30 1366.91,332.30" fill="#e0d7cf"/>
<polygon points="1378.53,325.08 1390.63,322.68 1391.58,332.30 1379.24,332.30" fill="#e2dad4"/>
<polygon points="1390.63,322.68 1402.72,320.27 1403.91,332.30 1391.58,332.30" fill="#e4deda"/>
<polygon points="1342.25,332.30 1354.58,332.30 1354.34,334.71 1342.25,332.30" fill="#e4deda"/>
<polygon points="1354.58,332.30 1366.91,332.30 1366.44,337.11 1354.34,334.71" fill="#e0d7cf"/>
<polygon points="1366.91,332.30 1379.24,332.30 1378.53,339.52 1366.44,337.11" fill="#e2dad4"/>
<polygon points="1379.24,332.30 1391.58,332.30 1390.63,341.92 1378.53,339.52" fill="#d9c8b4"/>
<polygon points="1391.58,332.30 1403.91,332.30 1402.72,344.33 1390.63,341.92" fill="#e4deda"/>
<polygon points="1342.25,332.30 1354.34,334.71 1353.64,337.02 1342.25,332.30" fill="#e4deda"/>
<polygon points="1354.34,334.71 1366.44,337.11 1365.04,341.74 1353.64,337.02" fill="#e0d7cf"/>
<polygon points="1366.44,337.11 1378.53,339.52 1376.43,346.46 1365.04,341.74" fill="#e0d7cf"/>
<polygon points="1378.53,339.52 1390.63,341.92 1387.82,351.18 1376.43,346.46" fill="#c1b890"/>
<polygon points="1390.63,341.92 1402.72,344.33 1399.21,355.90 1387.82,351.18" fill="#ddd0c2"/>
<polygon points="1342.25,332.30 1353.64,337.02 1352.50,339.15 1342.25,332.30" fill="#e4deda"/>
<polygon points="1353.64,337.02 1365.04,341.74 1362.76,346.00 1352.50,339.15" fill="#e0d7cf"/>
<polygon points="1365.04,341.74 1376.43,346.46 1373.01,352.85 1362.76,346.00" fill="#e0d7cf"/>
<polygon points="1376.43,346.46 1387.82,351.18 1383.26,359.70 1373.01,352.85" fill="#e6e1e0"/>
<polygon points="1342.25,332.30 1352.50,339.15 1350.97,341.02 1342.25,332.30" fill="#e4deda"/>
<polygon points="1352.50,339.15 1362.76,346.00 1359.69,349.74 1350.97,341.02" fill="#e0d7cf"/>
<polygon points="1362.76,346.00 1373.01,352.85 1368.41,358.46 1359.69,349.74" fill="#e2dad4"/>
<polygon points="1373.01,352.85 1383.26,359.70 1377.13,367.18 1368.41,358.46" fill="#e8e4e6"/>
<polygon points="1342.25,332.30 1350.97,341.02 1349.10,342.55 1342.25,332.30" fill="#e6e1e0"/>
<polygon points="1350.97,341.02 1359.69,349.74 1355.95,352.81 1349.10,342.55" fill="#e2dad4"/>
<polygon points="1359.69,349.74 1368.41,358.46 1362.80,363.06 1355.95,352.81" fill="#e2dad4"/>
<polygon points="1342.25,332.30 1349.10,342.55 1346.97,343.69 1342.25,332.30" fill="#e8e4e6"/>
<polygon points="1349.10,342.55 1355.95,352.81 1351.69,355.09 1346.97,343.69" fill="#e6e1e0"/>
<polygon points="1355.95,352.81 1362.80,363.06 1356.41,366.48 1351.69,355.09" fill="#e6e1e0"/>
<polygon points="1346.97,343.69 1351.69,355.09 1347.06,356.49 1344.66,344.39" fill="#e8e4e6"/>
<polygon points="1351.69,355.09 1356.41,366.48 1349.47,368.58 1347.06,356.49" fill="#d7c5ae"/>
<polygon points="1356.41,366.48 1361.13,377.87 1351.87,380.68 1349.47,368.58" fill="#e6e1e0"/>
<polygon points="1347.06,356.49 1349.47,368.58 1342.25,369.29 1342.25,356.96" fill="#d7c5ae"/>
<polygon points="1349.47,368.58 1351.87,380.68 1342.25,381.63 1342.25,369.29" fill="#e6e1e0"/>
<polygon points="1351.87,380.68 1354.28,392.77 1342.25,393.96 1342.25,381.63" fill="#e4deda"/>
<polygon points="1342.25,332.30 1342.25,344.63 1339.84,344.39 1342.25,332.30" fill="#e4deda"/>
<polygon points="1342.25,344.63 1342.25,356.96 1337.44,356.49 1339.84,344.39" fill="#ddd0c2"/>
<polygon points="1342.25,356.96 1342.25,369.29 1335.03,368.58 1337.44,356.49" fill="#e0d7cf"/>
<polygon points="1342.25,369.29 1342.25,381.63 1332.63,380.68 1335.03,368.58" fill="#cabb98"/>
<polygon points="1342.25,381.63 1342.25,393.96 1330.22,392.77 1332.63,380.68" fill="#e2dad4"/>
<polygon points="1342.25,332.30 1339.84,344.39 1337.53,343.69 1342.25,332.30" fill="#e4deda"/>
<polygon points="1339.84,344.39 1337.44,356.49 1332.81,355.09 1337.53,343.69" fill="#e0d7cf"/>
<polygon points="1337.44,356.49 1335.03,368.58 1328.09,366.48 1332.81,355.09" fill="#d7c5ae"/>
<polygon points="1335.03,368.58 1332.63,380.68 1323.37,377.87 1328.09,366.48" fill="#70a079"/>
<polygon points="1332.63,380.68 1330.22,392.77 1318.65,389.26 1323.37,377.87" fill="#8da87f"/>
<polygon points="1330.22,392.77 1327.82,404.87 1313.94,400.66 1318.65,389.26" fill="#d7c5ae"/>
<polygon points="1327.82,404.87 1325.41,416.96 1309.22,412.05 1313.94,400.66" fill="#e6e1e0"/>
<polygon points="1342.25,332.30 1337.53,343.69 1335.40,342.55 1342.25,332.30" fill="#d9c8b4"/>
<polygon points="1337.53,343.69 1332.81,355.09 1328.55,352.81 1335.40,342.55" fill="#70a079"/>
<polygon points="1332.81,355.09 1328.09,366.48 1321.70,363.06 1328.55,352.81" fill="#c1b890"/>
<polygon points="1328.09,366.48 1323.37,377.87 1314.85,373.31 1321.70,363.06" fill="#70a079"/>
<polygon points="1323.37,377.87 1318.65,389.26 1307.99,383.57 1314.85,373.31" fill="#c6b993"/>
<polygon points="1318.65,389.26 1313.94,400.66 1301.14,393.82 1307.99,383.57" fill="#ddd0c2"/>
<polygon points="1313.94,400.66 1309.22,412.05 1294.29,404.07 1301.14,393.82" fill="#ddd0c2"/>
<polygon points="1342.25,332.30 1335.40,342.55 1333.53,341.02 1342.25,332.30" fill="#e0d7cf"/>
<polygon points="1335.40,342.55 1328.55,352.81 1324.81,349.74 1333.53,341.02" fill="#d9c8b4"/>
<polygon points="1328.55,352.81 1321.70,363.06 1316.09,358.46 1324.81,349.74" fill="#d9c8b4"/>
<polygon points="1321.70,363.06 1314.85,373.31 1307.37,367.18 1316.09,358.46" fill="#dbccbb"/>
<polygon points="1314.85,373.31 1307.99,383.57 1298.65,375.90 1307.37,367.18" fill="#e0d7cf"/>
<polygon points="1307.99,383.57 1301.14,393.82 1289.93,384.62 1298.65,375.90" fill="#d9c8b4"/>
<polygon points="1301.14,393.82 1294.29,404.07 1281.21,393.34 1289.93,384.62" fill="#e6e1e0"/>
<polygon points="1294.29,404.07 1287.44,414.33 1272.49,402.06 1281.21,393.34" fill="#e8e4e6"/>
<polygon points="1342.25,332.30 1333.53,341.02 1332.00,339.15 1342.25,332.30" fill="#e4deda"/>
<polygon points="1333.53,341.02 1324.81,349.74 1321.74,346.00 1332.00,339.15" fill="#ded4c8"/>
<polygon points="1324.81,349.74 1316.09,358.46 1311.49,352.85 1321.74,346.00" fill="#a3ae84"/>
<polygon points="1316.09,358.46 1307.37,367.18 1301.24,359.70 1311.49,352.85" fill="#d5c2a7"/>
<polygon points="1307.37,367.18 1298.65,375.90 1290.98,366.56 1301.24,359.70" fill="#e0d7cf"/>
<polygon points="1298.65,375.90 1289.93,384.62 1280.73,373.41 1290.98,366.56" fill="#e6e1e0"/>
<polygon points="1289.93,384.62 1281.21,393.34 1270.48,380.26 1280.73,373.41" fill="#e4deda"/>
<polygon points="1281.21,393.34 1272.49,402.06 1260.22,387.11 1270.48,380.26" fill="#ded4c8"/>
<polygon points="1272.49,402.06 1263.77,410.78 1249.97,393.96 1260.22,387.11" fill="#e4deda"/>
<polygon points="1263.77,410.78 1255.05,419.50 1239.72,400.81 1249.97,393.96" fill="#e6e1e0"/>
<polygon points="1255.05,419.50 1246.33,428.22 1229.46,407.66 1239.72,400.81" fill="#e6e1e0"/>
<polygon points="1342.25,332.30 1332.00,339.15 1330.86,337.02 1342.25,332.30" fill="#e6e1e0"/>
<polygon points="1332.00,339.15 1321.74,346.00 1319.46,341.74 1330.86,337.02" fill="#e2dad4"/>
<polygon points="1321.74,346.00 1311.49,352.85 1308.07,346.46 1319.46,341.74" fill="#e0d7cf"/>
<polygon points="1311.49,352.85 1301.24,359.70 1296.68,351.18 1308.07,346.46" fill="#d7c5ae"/>
<polygon points="1301.24,359.70 1290.98,366.56 1285.29,355.90 1296.68,351.18" fill="#ded4c8"/>
<polygon points="1280.73,373.41 1270.48,380.26 1262.50,365.33 1273.89,360.61" fill="#e6e1e0"/>
<polygon points="1270.48,380.26 1260.22,387.11 1251.11,370.05 1262.50,365.33" fill="#e4deda"/>
<polygon points="1260.22,387.11 1249.97,393.96 1239.71,374.77 1251.11,370.05" fill="#e4deda"/>
<polygon points="1239.72,400.81 1229.46,407.66 1216.93,384.21 1228.32,379.49" fill="#e2dad4"/>
<polygon points="1342.25,332.30 1330.86,337.02 1330.16,334.71 1342.25,332.30" fill="#e0d7cf"/>
<polygon points="1330.86,337.02 1319.46,341.74 1318.06,337.11 1330.16,334.71" fill="#d7c5ae"/>
<polygon points="1319.46,341.74 1308.07,346.46 1305.97,339.52 1318.06,337.11" fill="#d5c2a7"/>
<polygon points="1308.07,346.46 1296.68,351.18 1293.87,341.92 1305.97,339.52" fill="#ddd0c2"/>
<polygon points="1296.68,351.18 1285.29,355.90 1281.78,344.33 1293.87,341.92" fill="#e6e1e0"/>
<polygon points="1262.50,365.33 1251.11,370.05 1245.49,351.55 1257.59,349.14" fill="#e4deda"/>
<polygon points="1342.25,332.30 1330.16,334.71 1329.92,332.30 1342.25,332.30" fill="#e4deda"/>
<polygon points="1330.16,334.71 1318.06,337.11 1317.59,332.30 1329.92,332.30" fill="#ddd0c2"/>
<polygon points="1318.06,337.11 1305.97,339.52 1305.26,332.30 1317.59,332.30" fill="#dbccbb"/>
<polygon points="1305.97,339.52 1293.87,341.92 1292.92,332.30 1305.26,332.30" fill="#dbccbb"/>
<polygon points="1293.87,341.92 1281.78,344.33 1280.59,332.30 1292.92,332.30" fill="#ddd0c2"/>
<polygon points="1281.78,344.33 1269.68,346.73 1268.26,332.30 1280.59,332.30" fill="#e4deda"/>
<polygon points="1269.68,346.73 1257.59,349.14 1255.93,332.30 1268.26,332.30" fill="#d2c0a2"/>
<polygon points="1257.59,349.14 1245.49,351.55 1243.60,332.30 1255.93,332.30" fill="#e6e1e0"/>
<polygon points="1342.25,332.30 1329.92,332.30 1330.16,329.89 1342.25,332.30" fill="#e4deda"/>
<polygon points="1329.92,332.30 1317.59,332.30 1318.06,327.49 1330.16,329.89" fill="#dbccbb"/>
<polygon points="1317.59,332.30 1305.26,332.30 1305.97,325.08 1318.06,327.49" fill="#ddd0c2"/>
<polygon points="1305.26,332.30 1292.92,332.30 1293.87,322.68 1305.97,325.08" fill="#b6b48a"/>
<polygon points="1292.92,332.30 1280.59,332.30 1281.78,320.27 1293.87,322.68" fill="#acb187"/>
<polygon points="1280.59,332.30 1268.26,332.30 1269.68,317.87 1281.78,320.27" fill="#cabb98"/>
<polygon points="1330.16,329.89 1318.06,327.49 1319.46,322.86 1330.86,327.58" fill="#e6e1e0"/>
<polygon points="1318.06,327.49 1305.97,325.08 1308.07,318.14 1319.46,322.86" fill="#ddd0c2"/>
<polygon points="1305.97,325.08 1293.87,322.68 1296.68,313.42 1308.07,318.14" fill="#98ab82"/>
<polygon points="1293.87,322.68 1281.78,320.27 1285.29,308.70 1296.68,313.42" fill="#d5c2a7"/>
<polygon points="1281.78,320.27 1269.68,317.87 1273.89,303.99 1285.29,308.70" fill="#e6e1e0"/>
<polygon points="1330.86,327.58 1319.46,322.86 1321.74,318.60 1332.00,325.45" fill="#e6e1e0"/>
<polygon points="1319.46,322.86 1308.07,318.14 1311.49,311.75 1321.74,318.60" fill="#87a67e"/>
<polygon points="1308.07,318.14 1296.68,313.42 1301.24,304.90 1311.49,311.75" fill="#a8b086"/>
<polygon points="1296.68,313.42 1285.29,308.70 1290.98,298.04 1301.24,304.90" fill="#e4deda"/>
<polygon points="1342.25,332.30 1332.00,325.45 1333.53,323.58 1342.25,332.30" fill="#e6e1e0"/>
<polygon points="1332.00,325.45 1321.74,318.60 1324.81,314.86 1333.53,323.58" fill="#ded4c8"/>
<polygon points="1321.74,318.60 1311.49,311.75 1316.09,306.14 1324.81,314.86" fill="#d9c8b4"/>
<polygon points="1311.49,311.75 1301.24,304.90 1307.37,297.42 1316.09,306.14" fill="#7ca37c"/>
<polygon points="1301.24,304.90 1290.98,298.04 1298.65,288.70 1307.37,297.42" fill="#e2dad4"/>
<polygon points="1333.53,323.58 1324.81,314.86 1328.55,311.79 1335.40,322.05" fill="#e6e1e0"/>
<polygon points="1324.81,314.86 1316.09,306.14 1321.70,301.54 1328.55,311.79" fill="#c1b890"/>
<polygon points="1316.09,306.14 1307.37,297.42 1314.85,291.29 1321.70,301.54" fill="#d9c8b4"/>
<polygon points="1307.37,297.42 1298.65,288.70 1307.99,281.03 1314.85,291.29" fill="#e6e1e0"/>
<polygon points="1342.25,332.30 1335.40,322.05 1337.53,320.91 1342.25,332.30" fill="#e8e4e6"/>
<polygon points="1335.40,322.05 1328.55,311.79 1332.81,309.51 1337.53,320.91" fill="#e4deda"/>
<polygon points="1328.55,311.79 1321.70,301.54 1328.09,298.12 1332.81,309.51" fill="#a3ae84"/>
<polygon points="1321.70,301.54 1314.85,291.29 1323.37,286.73 1328.09,298.12" fill="#ddd0c2"/>
<polygon points="1314.85,291.29 1307.99,281.03 1318.65,275.34 1323.37,286.73" fill="#e8e4e6"/>
<polygon points="1342.25,332.30 1337.53,320.91 1339.84,320.21 1342.25,332.30" fill="#e0d7cf"/>
<polygon points="1337.53,320.91 1332.81,309.51 1337.44,308.11 1339.84,320.21" fill="#d2c0a2"/>
<polygon points="1332.81,309.51 1328.09,298.12 1335.03,296.02 1337.44,308.11" fill="#c1b890"/>
<polygon points="1328.09,298.12 1323.37,286.73 1332.63,283.92 1335.03,296.02" fill="#ddd0c2"/>
<polygon points="1323.37,286.73 1318.65,275.34 1330.22,271.83 1332.63,283.92" fill="#e8e4e6"/>
<polygon points="1342.25,332.30 1339.84,320.21 1342.25,319.97 1342.25,332.30" fill="#e8e4e6"/>
<polygon points="1339.84,320.21 1337.44,308.11 1342.25,307.64 1342.25,319.97" fill="#e4deda"/>
<polygon points="1337.44,308.11 1335.03,296.02 1342.25,295.31 1342.25,307.64" fill="#e0d7cf"/>
<polygon points="1335.03,296.02 1332.63,283.92 1342.25,282.97 1342.25,295.31" fill="#e4deda"/>
<polygon points="1332.63,283.92 1330.22,271.83 1342.25,270.64 1342.25,282.97" fill="#e2dad4"/>
</g>
<g stroke="#b0b0b0" stroke-width="1.1" fill="none">
<circle cx="1341.80" cy="331.80" r="44.86"/>
<circle cx="1341.80" cy="331.80" r="89.72"/>
<circle cx="1341.80" cy="331.80" r="134.58"/>
<circle cx="1341.80" cy="331.80" r="179.44"/>
<circle cx="1341.80" cy="331.80" r="224.30"/>
<line x1="1342.25" y1="332.30" x2="1509.34" y2="165.21" clip-path="url(#c2)"/>
<line x1="1342.25" y1="332.30" x2="1509.34" y2="499.39" clip-path="url(#c2)"/>
<line x1="1342.25" y1="332.30" x2="1175.16" y2="499.39" clip-path="url(#c2)"/>
<line x1="1342.25" y1="332.30" x2="1175.16" y2="165.21" clip-path="url(#c2)"/>
<line x1="1342.50" y1="97.50" x2="1342.50" y2="566.10" stroke-width="1"/>
<line x1="1107.50" y1="332.50" x2="1576.10" y2="332.50" stroke-width="1"/>
</g>
<circle cx="1341.80" cy="331.80" r="234.30" fill="none" stroke="#000" stroke-width="1.1"/>
<rect x="1575.30" y="331.1" width="1.6" height="1.9" fill="#000"/>
<g font-size="19.44">
<text x="1342.60" y="83.50" text-anchor="middle">N</text>
<text x="1342.50" y="591.80" text-anchor="middle">S</text>
<text x="1590.30" y="338.30" text-anchor="start">E</text>
<text x="1098.50" y="338.30" text-anchor="end">W</text>
<text x="1398.25" y="311.43" text-anchor="middle" letter-spacing="-0.3">0.5</text>
<text x="1439.69" y="294.27" text-anchor="middle" letter-spacing="-0.3">1.0</text>
<text x="1481.14" y="277.10" text-anchor="middle" letter-spacing="-0.3">1.5</text>
<text x="1522.58" y="259.93" text-anchor="middle" letter-spacing="-0.3">2.0</text>
<text x="1564.03" y="242.76" text-anchor="middle" letter-spacing="-0.3">2.5</text>
</g>
<text x="1341.80" y="60.80" text-anchor="middle" font-size="25">CIOFS-NWGOA</text>
<text x="805.50" y="31.70" text-anchor="middle" font-size="27.8">May 2003</text>
<defs><linearGradient id="cb" x1="0" x2="1" y1="0" y2="0">
<stop offset="0.0000" stop-color="#eeedf3"/>
<stop offset="0.0132" stop-color="#ebe8ec"/>
<stop offset="0.0263" stop-color="#e8e4e6"/>
<stop offset="0.0395" stop-color="#e6e1e0"/>
<stop offset="0.0526" stop-color="#e4deda"/>
<stop offset="0.0658" stop-color="#e2dad4"/>
<stop offset="0.0789" stop-color="#e0d7cf"/>
<stop offset="0.0921" stop-color="#ded4c8"/>
<stop offset="0.1053" stop-color="#ddd0c2"/>
<stop offset="0.1184" stop-color="#dbccbb"/>
<stop offset="0.1316" stop-color="#d9c8b4"/>
<stop offset="0.1447" stop-color="#d7c5ae"/>
<stop offset="0.1579" stop-color="#d5c2a7"/>
<stop offset="0.1711" stop-color="#d2c0a2"/>
<stop offset="0.1842" stop-color="#cfbd9c"/>
<stop offset="0.1974" stop-color="#cabb98"/>
<stop offset="0.2105" stop-color="#c6b993"/>
<stop offset="0.2237" stop-color="#c1b890"/>
<stop offset="0.2368" stop-color="#bcb68d"/>
<stop offset="0.2500" stop-color="#b6b48a"/>
<stop offset="0.2632" stop-color="#b1b288"/>
<stop offset="0.2763" stop-color="#acb187"/>
<stop offset="0.2895" stop-color="#a8b086"/>
<stop offset="0.3026" stop-color="#a3ae84"/>
<stop offset="0.3158" stop-color="#9ead83"/>
<stop offset="0.3289" stop-color="#98ab82"/>
<stop offset="0.3421" stop-color="#92aa80"/>
<stop offset="0.3553" stop-color="#8da87f"/>
<stop offset="0.3684" stop-color="#87a67e"/>
<stop offset="0.3816" stop-color="#81a47d"/>
<stop offset="0.3947" stop-color="#7ca37c"/>
<stop offset="0.4079" stop-color="#76a27a"/>
<stop offset="0.4211" stop-color="#70a079"/>
<stop offset="0.4342" stop-color="#6a9e78"/>
<stop offset="0.4474" stop-color="#639c78"/>
<stop offset="0.4605" stop-color="#5c9b77"/>
<stop offset="0.4737" stop-color="#569976"/>
<stop offset="0.4868" stop-color="#4e9776"/>
<stop offset="0.5000" stop-color="#469475"/>
<stop offset="0.5132" stop-color="#3e9275"/>
<stop offset="0.5263" stop-color="#368f75"/>
<stop offset="0.5395" stop-color="#2d8c75"/>
<stop offset="0.5526" stop-color="#258975"/>
<stop offset="0.5658" stop-color="#1e8674"/>
<stop offset="0.5789" stop-color="#188274"/>
<stop offset="0.5921" stop-color="#117f74"/>
<stop offset="0.6053" stop-color="#0a7c73"/>
<stop offset="0.6184" stop-color="#087972"/>
<stop offset="0.6316" stop-color="#077672"/>
<stop offset="0.6447" stop-color="#067371"/>
<stop offset="0.6579" stop-color="#047070"/>
<stop offset="0.6711" stop-color="#076c6f"/>
<stop offset="0.6842" stop-color="#0a696e"/>
<stop offset="0.6974" stop-color="#0d666d"/>
<stop offset="0.7105" stop-color="#10626c"/>
<stop offset="0.7237" stop-color="#135e6a"/>
<stop offset="0.7368" stop-color="#165b68"/>
<stop offset="0.7500" stop-color="#185866"/>
<stop offset="0.7632" stop-color="#1b5464"/>
<stop offset="0.7763" stop-color="#1c5062"/>
<stop offset="0.7895" stop-color="#1e4d60"/>
<stop offset="0.8026" stop-color="#1f4a5e"/>
<stop offset="0.8158" stop-color="#20465c"/>
<stop offset="0.8289" stop-color="#21425a"/>
<stop offset="0.8421" stop-color="#223f57"/>
<stop offset="0.8553" stop-color="#233c54"/>
<stop offset="0.8684" stop-color="#243852"/>
<stop offset="0.8816" stop-color="#243550"/>
<stop offset="0.8947" stop-color="#25324d"/>
<stop offset="0.9079" stop-color="#262f4a"/>
<stop offset="0.9211" stop-color="#262c48"/>
<stop offset="0.9342" stop-color="#262946"/>
<stop offset="0.9474" stop-color="#252643"/>
<stop offset="0.9605" stop-color="#242340"/>
<stop offset="0.9737" stop-color="#24203e"/>
<stop offset="0.9868" stop-color="#221d3b"/>
<stop offset="1.0000" stop-color="#211a38"/>
</linearGradient></defs>
<rect x="406.50" y="605.50" width="800.00" height="30.00" fill="url(#cb)" stroke="#000" stroke-width="1.1"/>
<g stroke="#000" stroke-width="1.4">
<line x1="406.50" y1="635.50" x2="406.50" y2="658.00"/>
<line x1="511.50" y1="635.50" x2="511.50" y2="658.00"/>
<line x1="616.50" y1="635.50" x2="616.50" y2="658.00"/>
<line x1="722.50" y1="635.50" x2="722.50" y2="658.00"/>
<line x1="827.50" y1="635.50" x2="827.50" y2="658.00"/>
<line x1="932.50" y1="635.50" x2="932.50" y2="658.00"/>
<line x1="1038.50" y1="635.50" x2="1038.50" y2="658.00"/>
<line x1="1143.50" y1="635.50" x2="1143.50" y2="658.00"/>
</g>
<g font-size="22.2" text-anchor="middle">
<text x="405.80" y="680.60">0</text>
<text x="511.10" y="680.60">5</text>
<text x="616.40" y="680.60">10</text>
<text x="721.70" y="680.60">15</text>
<text x="827.00" y="680.60">20</text>
<text x="932.30" y="680.60">25</text>
<text x="1037.60" y="680.60">30</text>
<text x="1142.90" y="680.60">35</text>
</g>
<text x="805.30" y="709.00" text-anchor="middle" font-size="22.25">Currents [m/s] at COI0306; number of occurrences</text>
</svg></body></html>
